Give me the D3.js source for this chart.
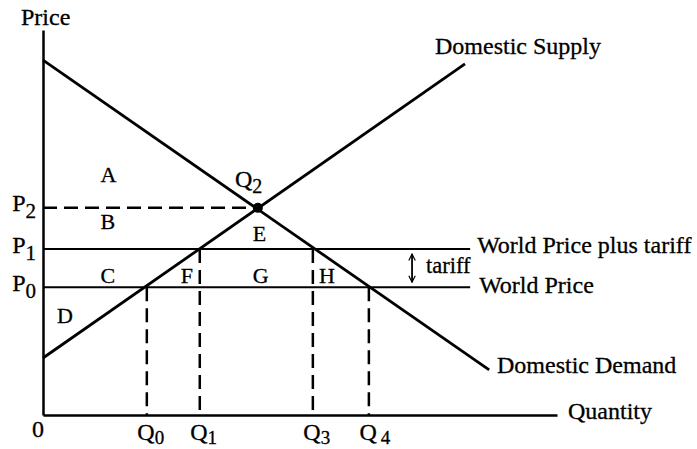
<!DOCTYPE html>
<html>
<head>
<meta charset="utf-8">
<script src="https://cdn.jsdelivr.net/npm/d3@7"></script>
<style>
  body { margin: 0; background: #fff; }
  svg text { font-family: "Liberation Serif", "Times New Roman", serif; fill: #000; stroke: #000; stroke-width: 0.3px; }
</style>
</head>
<body>
<svg id="chart"></svg>
<script>
// chart values (abstract units, both axes 0..10)
const demandLine = [[0, 9.22], [8.68, 1.17]];
const supplyLine = [[0, 1.48], [8.21, 9.12]];
const priceNames = ["P0", "P1", "P2"];
const priceValues = [3.32, 4.31, 5.38];
const qtyNames = ["Q0", "Q1", "Q3", "Q4"];
const qtyValues = [2.02, 3.05, 5.25, 6.34];
const qtyPrice = [3.32, 4.31, 4.31, 3.32]; // price line each dashed drop starts from
const equilibrium = [4.18, 5.38];
const worldLineEnd = 8.31;
const tariffX = 7.18;

// region labels
const areaNames = ["A", "B", "C", "D", "E", "F", "G", "H"];
const areaX = [1.12, 1.12, 1.12, 0.27, 4.08, 2.68, 4.08, 5.37];
const areaY = [6.04, 4.82, 3.42, 2.39, 4.52, 3.42, 3.42, 3.42];

const width = 697;
const height = 449;

const svg = d3.select('svg#chart').attr('width', width).attr('height', height)

const x = d3.scaleLinear().domain([0, 10]).range([43, 557])
const y = d3.scaleLinear().domain([0, 10]).range([415, 30])

const fontSize = 24;

// axes
const yAxis = d3.axisLeft(y).tickValues(priceValues).tickSize(0).tickSizeOuter(0).tickPadding(8).tickFormat(() => "")
const gy = svg.append('g').attr('transform', 'translate(' + x(0) + ',0)').call(yAxis)

const xAxis = d3.axisBottom(x).tickValues(qtyValues).tickSize(0).tickSizeOuter(0).tickFormat(() => "")
const gx = svg.append('g').attr('transform', 'translate(0,' + y(0) + ')').call(xAxis)

svg.selectAll('.domain').attr('stroke', '#000').attr('stroke-width', 2.5)

// P labels with subscripts
gy.selectAll('.tick text').each(function (d, i) {
  const t = d3.select(this).attr('dy', null).attr('y', 3).attr('x', -7)
    .attr('font-size', fontSize).attr('text-anchor', 'end')
  t.append('tspan').text(priceNames[i][0])
  t.append('tspan').attr('font-size', 21).attr('dy', 7).text(priceNames[i][1])
})

// Q labels with subscripts
gx.selectAll('.tick text').each(function (d, i) {
  const t = d3.select(this).attr('dy', null).attr('y', 25).attr('x', -10)
    .attr('font-size', fontSize).attr('text-anchor', 'start')
  t.append('tspan').text(qtyNames[i][0])
  t.append('tspan').attr('font-size', 19).attr('dy', 4)
    .attr('dx', qtyNames[i] == "Q4" ? 4 : 0).text(qtyNames[i][1])
})

// axis titles and origin
svg.append('text').attr('x', 21).attr('y', 25).attr('font-size', fontSize).text('Price')
svg.append('text').attr('x', 568).attr('y', 419).attr('font-size', fontSize).text('Quantity')
svg.append('text').attr('x', 32).attr('y', 437).attr('font-size', fontSize).text('0')

// dashed drops
const dash = "14,7";
svg.selectAll('line.drop').data(qtyValues).enter().append('line')
  .attr('class', 'drop')
  .attr('x1', d => x(d)).attr('x2', d => x(d))
  .attr('y1', (d, i) => y(qtyPrice[i])).attr('y2', y(0))
  .attr('stroke', '#000').attr('stroke-width', 2.5).attr('stroke-dasharray', dash)

svg.append('line')
  .attr('x1', x(0)).attr('x2', x(equilibrium[0]))
  .attr('y1', y(priceValues[2])).attr('y2', y(priceValues[2]))
  .attr('stroke', '#000').attr('stroke-width', 2.5).attr('stroke-dasharray', dash)

// world price lines
svg.selectAll('line.world').data(priceValues.slice(0, 2)).enter().append('line')
  .attr('class', 'world')
  .attr('x1', x(0)).attr('x2', x(worldLineEnd))
  .attr('y1', d => y(d)).attr('y2', d => y(d))
  .attr('stroke', '#000').attr('stroke-width', 2)

// demand and supply
const line = d3.line().x(d => x(d[0])).y(d => y(d[1]))
svg.append('path').attr('d', line(demandLine)).attr('fill', 'none').attr('stroke', '#000').attr('stroke-width', 2.8)
svg.append('path').attr('d', line(supplyLine)).attr('fill', 'none').attr('stroke', '#000').attr('stroke-width', 2.8)

svg.append('circle').attr('cx', x(equilibrium[0])).attr('cy', y(equilibrium[1])).attr('r', 5).attr('fill', '#000')

// tariff arrow
const defs = svg.append('defs')
defs.append('marker').attr('id', 'arr').attr('viewBox', '0 0 10 10').attr('refX', 9).attr('refY', 5)
  .attr('markerWidth', 8).attr('markerHeight', 8).attr('markerUnits', 'userSpaceOnUse').attr('orient', 'auto-start-reverse')
  .append('path').attr('d', 'M1,1 L9,5 L1,9').attr('fill', 'none').attr('stroke', '#000').attr('stroke-width', 1.5)
svg.append('line')
  .attr('x1', x(tariffX)).attr('x2', x(tariffX))
  .attr('y1', y(priceValues[1]) + 5).attr('y2', y(priceValues[0]) - 5)
  .attr('stroke', '#000').attr('stroke-width', 1.8)
  .attr('marker-start', 'url(#arr)').attr('marker-end', 'url(#arr)')
svg.append('text').attr('x', x(tariffX) + 14).attr('y', 273).attr('font-size', 22.5).text('tariff')

// curve and line labels
svg.append('text').attr('x', 435).attr('y', 54).attr('font-size', fontSize).text('Domestic Supply')
svg.append('text').attr('x', 497).attr('y', 373).attr('font-size', fontSize).text('Domestic Demand')
svg.append('text').attr('x', x(worldLineEnd) + 7).attr('y', y(priceValues[1]) + 4).attr('font-size', fontSize).text('World Price plus tariff')
svg.append('text').attr('x', x(worldLineEnd) + 9).attr('y', y(priceValues[0]) + 6).attr('font-size', fontSize).text('World Price')

// Q2 label
const q2 = svg.append('text').attr('x', 235).attr('y', 187).attr('font-size', fontSize)
q2.append('tspan').text('Q')
q2.append('tspan').attr('font-size', 20).attr('dy', 6).text('2')

// area letters
svg.selectAll('text.area').data(areaNames).enter().append('text')
  .attr('class', 'area')
  .attr('x', (d, i) => x(areaX[i])).attr('y', (d, i) => y(areaY[i]))
  .attr('font-size', 22).text(d => d)
</script>
</body>
</html>
